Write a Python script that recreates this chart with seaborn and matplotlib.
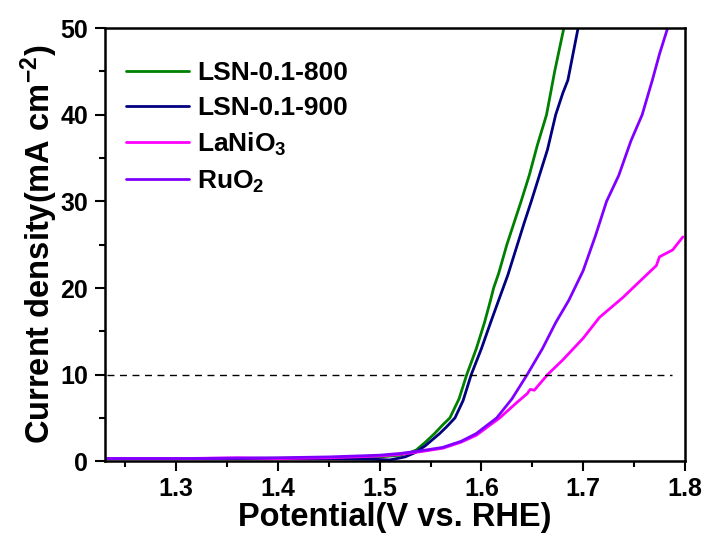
import numpy as np
import pandas as pd
import seaborn as sns
import matplotlib.pyplot as plt
from matplotlib.ticker import MultipleLocator

# LSV curves
x_800 = [1.23, 1.30, 1.40, 1.45, 1.50, 1.52, 1.53, 1.536, 1.545, 1.554, 1.562, 1.569, 1.578,
         1.5856, 1.595, 1.603, 1.609, 1.612, 1.617, 1.625, 1.632, 1.639, 1.647, 1.655, 1.664,
         1.672, 1.681]
y_800 = [0.3, 0.3, 0.35, 0.4, 0.5, 0.7, 1.0, 1.3, 2.2, 3.2, 4.2, 5.0, 7.2,
         10, 13, 16, 18.6, 20, 21.7, 25, 27.5, 30, 33, 36.5, 40,
         45, 50]

x_900 = [1.23, 1.30, 1.40, 1.45, 1.49, 1.51, 1.525, 1.535, 1.545, 1.559, 1.566, 1.574, 1.582,
         1.590, 1.600, 1.609, 1.617, 1.626, 1.634, 1.642, 1.649, 1.657, 1.665, 1.673, 1.680,
         1.685, 1.690, 1.695]
y_900 = [0.3, 0.3, 0.3, 0.3, 0.25, 0.15, 0.5, 1.0, 1.8, 3.2, 4.0, 5.0, 7.0,
         10, 13, 16, 18.6, 21.5, 24.5, 27.5, 30, 33, 36, 40, 42.5,
         44, 47, 50]

x_lanio3 = [1.23, 1.30, 1.36, 1.40, 1.45, 1.50, 1.52, 1.54, 1.562, 1.58, 1.595, 1.618, 1.635,
            1.645, 1.648, 1.652, 1.665, 1.68, 1.70, 1.716, 1.739, 1.755, 1.772, 1.775, 1.788,
            1.798]
y_lanio3 = [0.3, 0.3, 0.4, 0.3, 0.4, 0.6, 0.8, 1.1, 1.5, 2.2, 3.0, 5.0, 6.8,
            7.8, 8.3, 8.2, 10, 11.7, 14.2, 16.6, 18.9, 20.7, 22.6, 23.6, 24.4,
            25.9]

x_ruo2 = [1.23, 1.30, 1.40, 1.45, 1.50, 1.52, 1.54, 1.562, 1.58, 1.595, 1.615, 1.63, 1.645,
          1.66, 1.673, 1.686, 1.70, 1.712, 1.723, 1.735, 1.747, 1.758, 1.768, 1.775, 1.783]
y_ruo2 = [0.3, 0.3, 0.4, 0.5, 0.7, 0.9, 1.2, 1.6, 2.3, 3.2, 5.0, 7.2, 10,
          13, 16, 18.6, 22, 26, 30, 33, 37, 40, 44, 47, 50]

labels = ["LSN-0.1-800", "LSN-0.1-900", "LaNiO$_3$", "RuO$_2$"]
colors = ["#008000", "#000080", "#FF00FF", "#8000FF"]
series = [(x_800, y_800), (x_900, y_900), (x_lanio3, y_lanio3), (x_ruo2, y_ruo2)]

sns.set_style("ticks")
plt.rcParams["font.family"] = ["Liberation Sans", "DejaVu Sans"]
plt.rcParams["font.weight"] = "bold"
plt.rcParams["mathtext.fontset"] = "custom"
plt.rcParams["mathtext.rm"] = "Liberation Sans:bold"
plt.rcParams["mathtext.it"] = "Liberation Sans:bold"
plt.rcParams["mathtext.bf"] = "Liberation Sans:bold"
for key in ["text.color", "axes.labelcolor", "xtick.color", "ytick.color", "axes.edgecolor"]:
    plt.rcParams[key] = "black"

fig = plt.figure(figsize=(7.09, 5.42), dpi=100)
ax = fig.add_axes([0.148, 0.149, 0.818, 0.799])

for (xs, ys), lab, col in zip(series, labels, colors):
    df = pd.DataFrame({"V": xs, "j": ys})
    sns.lineplot(data=df, x="V", y="j", color=col, lw=2.0, label=lab, sort=False, ax=ax)

ax.hlines(10, 1.232, 1.787, colors="black", linestyles=(0, (5, 4)), lw=1.0)

ax.set_xlim(1.23, 1.8)
ax.set_ylim(0, 50)
ax.xaxis.set_major_locator(MultipleLocator(0.1))
ax.xaxis.set_minor_locator(MultipleLocator(0.05))
ax.yaxis.set_major_locator(MultipleLocator(10))
ax.yaxis.set_minor_locator(MultipleLocator(5))
ax.tick_params(which="major", length=7, width=1.5, labelsize=18, direction="out")
ax.tick_params(axis="x", which="major", pad=4)
ax.tick_params(axis="y", which="major", pad=5)
ax.tick_params(which="minor", length=4, width=1.5, direction="out")
for lab in ax.get_xticklabels() + ax.get_yticklabels():
    lab.set_fontweight("bold")
for sp in ax.spines.values():
    sp.set_linewidth(1.8)
    sp.set_visible(True)

ax.set_xlabel("Potential(V vs. RHE)", fontsize=23.5, fontweight="bold", labelpad=1)
ax.set_ylabel("Current density(mA cm$^{-2}$)", fontsize=23.5, fontweight="bold", labelpad=0)

ax.legend(loc="upper left", bbox_to_anchor=(-0.005, 0.978), frameon=False,
          prop={"size": 19, "weight": "bold"}, handlelength=2.4, handletextpad=0.3,
          labelspacing=0.4)

fig.savefig("out.png", dpi=100)
